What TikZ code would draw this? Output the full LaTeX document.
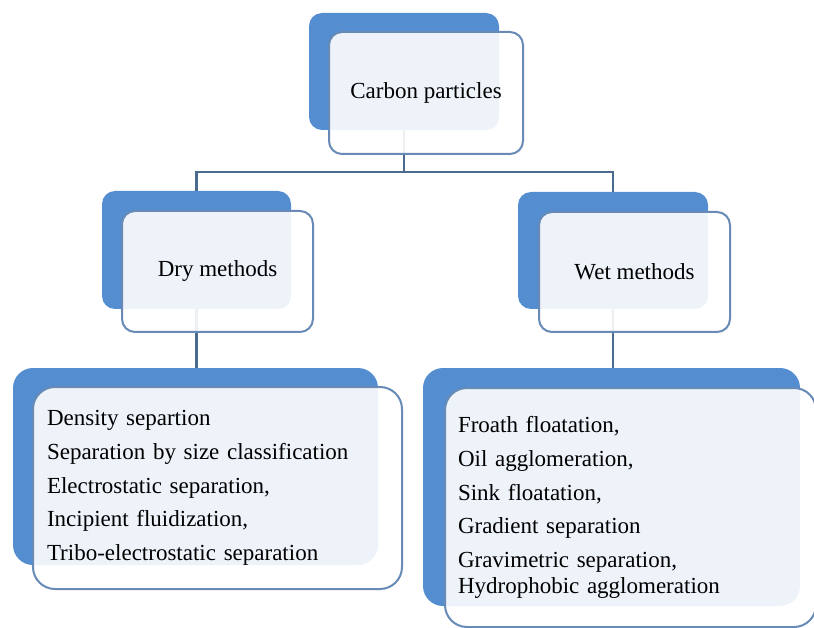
\documentclass[tikz,border=0pt]{standalone}
\usepackage{fontspec}
\setmainfont{Liberation Serif}
\usepackage{xcolor}
\usepackage{tikz}
\usetikzlibrary{positioning}
\definecolor{boxblue}{RGB}{84,142,208}
\definecolor{boxedge}{RGB}{104,138,182}
\definecolor{linkblue}{RGB}{74,106,142}

\begin{document}
\begin{tikzpicture}[x=1pt, y=-1pt,
      font=\fontsize{23}{33.75}\selectfont,
      back/.style={fill=boxblue, rounded corners=13pt, inner sep=0pt},
      front/.style={draw=boxedge, line width=2pt, fill=white,
                    fill opacity=0.9, text opacity=1, rounded corners=13pt},
      link/.style={draw=linkblue, line width=2.5pt}]
    \useasboundingbox (0,0) rectangle (814,628);
    % blue back plates
    \node[back, minimum width=190pt, minimum height=117pt] (cbk) at (404, 71.5) {};
    \node[back, minimum width=189pt, minimum height=118pt] (dbk) at (196.5, 250) {};
    \node[back, minimum width=190pt, minimum height=117pt] (wbk) at (613, 250.5) {};
    \node[back, minimum width=365pt, minimum height=197pt,
          rounded corners=20pt] (dlbk) at (195.5, 466.5) {};
    \node[back, minimum width=377pt, minimum height=238pt,
          rounded corners=20pt] (wlbk) at (611.5, 487) {};
    % connectors
    \coordinate (split) at ([yshift=-42pt]cbk.south);
    \draw[link] (cbk.south) -- (split);
    \draw[link] (dbk.north) |- (split) -| (wbk.north);
    \draw[link] (dbk.south) -- (dbk.south |- dlbk.north);
    \draw[link] (wbk.south) -- (wbk.south |- wlbk.north);
    % front boxes
    \node[front, minimum width=194pt, minimum height=122pt] (carbon) at (426, 93)
      {Carbon particles};
    \node[front, minimum width=191pt, minimum height=121pt] (dry) at (217.5, 271.5)
      {Dry methods};
    \node[front, minimum width=191pt, minimum height=120pt] (wet) at (634.5, 272)
      {Wet methods};
    \node[front, rounded corners=22pt, minimum width=369pt, minimum height=202pt,
          inner xsep=14pt, text width=341pt, align=left] (drylist) at (217.5, 488)
      {Density separtion\\ Separation by size classification\\
       Electrostatic separation,\\ Incipient fluidization,\\
       Tribo-electrostatic separation};
    \node[front, rounded corners=22pt, minimum width=371pt, minimum height=239pt,
          inner xsep=13pt, text width=345pt, align=left] (wetlist) at (630.5, 507.5)
      {Froath floatation,\\ Oil agglomeration,\\ Sink floatation,\\
       Gradient separation\\ Gravimetric separation,\\[-8pt]
       Hydrophobic agglomeration};
  \end{tikzpicture}
\end{document}
